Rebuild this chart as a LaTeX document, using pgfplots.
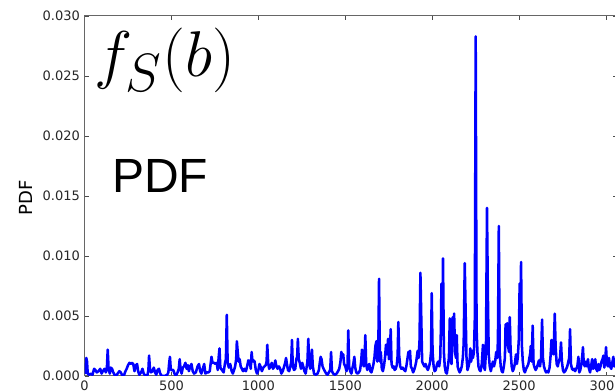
\documentclass[border=0pt]{standalone}
\usepackage{fontspec}
\setmainfont{DejaVu Sans}
\newfontfamily\arialf{Liberation Sans}
\usepackage{graphicx}
\usepackage{pgfplots}
\pgfplotsset{compat=1.18}
\begin{document}
\begin{tikzpicture}
\useasboundingbox (-63.45pt,-12pt) rectangle (397.8pt,282pt);
\clip (-63.45pt,-12pt) rectangle (397.8pt,282pt);
\begin{axis}[
  scale only axis, width=399.3pt, height=270pt,
  xmin=0, xmax=3063, ymin=0, ymax=0.030,
  xtick={0,500,1000,1500,2000,2500,3000},
  ytick={0,0.005,0.010,0.015,0.020,0.025,0.030},
  scaled y ticks=false,
  /pgf/number format/1000 sep={},
  y tick label style={/pgf/number format/fixed, /pgf/number format/fixed zerofill, /pgf/number format/precision=3},
  /pgf/number format/assume math mode=true,
  tick align=inside, major tick length=3pt,
  tick style={black!70, line width=0.5pt},
  axis line style={black!60, line width=0.75pt},
  ticklabel style={font=\fontsize{9.75}{11}\selectfont, text=black!85},
  ylabel={PDF},
  ylabel style={font=\fontsize{13.5}{15}\selectfont, at={(axis description cs:-0.110,0.494)}, anchor=center},
  clip mode=individual,
]
\addplot[color={rgb,255:red,0;green,0;blue,255}, line width=1.9pt, line join=round] coordinates {
(0,0.0002)(5,0.0003)(10,0.0015)(14,0.0012)(18,0.0002)(25,0.0001)(35,0.0002)(45,0.0001)(55,0.0006)(62,0.0005)
(70,0.0003)(80,0.0004)(90,0.0006)(98,0.0002)(105,0.0004)(115,0.0006)(122,0.0003)(128,0.0006)(133,0.0022)(138,0.0006)
(145,0.0002)(150,0.0007)(158,0.0006)(165,0.0003)(172,0.0001)(180,0.0)(190,0.0002)(200,0.0004)(208,0.0003)(215,0.0001)
(225,0.0)(235,0.0004)(242,0.0006)(250,0.0009)(258,0.0011)(265,0.0010)(272,0.0011)(280,0.0010)(287,0.0004)(295,0.0009)
(302,0.0010)(308,0.0004)(315,0.0001)(325,0.0003)(333,0.0006)(340,0.0002)(350,0.0)(362,0.0001)(367,0.0005)(371,0.0017)
(376,0.0006)(382,0.0003)(390,0.0004)(398,0.0007)(405,0.0003)(412,0.0001)(420,0.0005)(428,0.0006)(435,0.0002)(445,0.0)
(460,0.0)(475,0.0001)(482,0.0003)(486,0.0010)(491,0.0016)(496,0.0005)(503,0.0005)(510,0.0005)(517,0.0002)(525,0.0)
(535,0.0003)(542,0.0006)(547,0.0014)(552,0.0006)(558,0.0002)(565,0.0007)(572,0.0008)(580,0.0011)(587,0.0006)(594,0.0009)
(600,0.0004)(608,0.0008)(615,0.0010)(622,0.0004)(630,0.0002)(640,0.0003)(650,0.0008)(658,0.0010)(665,0.0004)(672,0.0002)
(680,0.0006)(688,0.0010)(695,0.0002)(705,0.0003)(712,0.0003)(720,0.0004)(725,0.0010)(730,0.0016)(736,0.0011)(745,0.0011)
(752,0.0010)(760,0.0011)(766,0.0005)(771,0.0015)(776,0.0023)(781,0.0007)(790,0.0005)(800,0.0003)(808,0.0011)(813,0.0014)
(818,0.0051)(823,0.0011)(830,0.0007)(838,0.0010)(846,0.0004)(853,0.0002)(860,0.0005)(866,0.0008)(872,0.0014)(876,0.0029)
(881,0.0020)(886,0.0012)(892,0.0014)(898,0.0008)(905,0.0006)(912,0.0004)(920,0.0006)(928,0.0004)(935,0.0008)(942,0.0013)
(950,0.0012)(956,0.0006)(961,0.0020)(966,0.0012)(972,0.0013)(978,0.0012)(985,0.0005)(992,0.0002)(1000,0.0005)(1006,0.0010)
(1012,0.0008)(1020,0.0004)(1028,0.0007)(1035,0.0008)(1042,0.0009)(1047,0.0012)(1051,0.0026)(1056,0.0011)(1062,0.0006)(1070,0.0008)
(1077,0.0011)(1084,0.0006)(1092,0.0008)(1097,0.0013)(1102,0.0009)(1110,0.0006)(1118,0.0008)(1125,0.0006)(1132,0.0002)(1140,0.0004)
(1148,0.0008)(1154,0.0011)(1159,0.0015)(1164,0.0010)(1170,0.0005)(1177,0.0004)(1184,0.0008)(1189,0.0012)(1193,0.0030)(1198,0.0008)
(1205,0.0005)(1212,0.0006)(1218,0.0014)(1223,0.0016)(1227,0.0031)(1232,0.0014)(1238,0.0011)(1245,0.0006)(1252,0.0011)(1258,0.0008)
(1265,0.0004)(1272,0.0002)(1278,0.0008)(1282,0.0012)(1287,0.0031)(1292,0.0011)(1298,0.0006)(1303,0.0010)(1308,0.0022)(1313,0.0008)
(1320,0.0002)(1330,0.0001)(1340,0.0002)(1348,0.0005)(1353,0.0011)(1358,0.0016)(1363,0.0014)(1369,0.0008)(1375,0.0006)(1382,0.0004)
(1390,0.0002)(1398,0.0001)(1405,0.0003)(1413,0.0005)(1418,0.0020)(1423,0.0004)(1430,0.0002)(1440,0.0001)(1450,0.0002)(1458,0.0004)
(1465,0.0006)(1472,0.0012)(1477,0.0020)(1482,0.0017)(1488,0.0018)(1493,0.0010)(1500,0.0008)(1507,0.0004)(1513,0.0010)(1517,0.0038)
(1522,0.0008)(1528,0.0004)(1535,0.0002)(1540,0.0006)(1546,0.0010)(1552,0.0016)(1557,0.0007)(1563,0.0003)(1570,0.0002)(1578,0.0003)
(1585,0.0005)(1591,0.0012)(1596,0.0022)(1601,0.0010)(1607,0.0008)(1611,0.0015)(1615,0.0034)(1620,0.0010)(1626,0.0005)(1632,0.0009)
(1638,0.0010)(1644,0.0004)(1650,0.0003)(1656,0.0006)(1662,0.0010)(1668,0.0016)(1673,0.0025)(1679,0.0029)(1684,0.0012)(1690,0.0025)
(1694,0.0081)(1699,0.0012)(1704,0.0020)(1710,0.0006)(1716,0.0004)(1722,0.0008)(1728,0.0015)(1734,0.0026)(1740,0.0018)(1746,0.0031)
(1751,0.0014)(1756,0.0016)(1761,0.0039)(1766,0.0010)(1772,0.0007)(1778,0.0008)(1784,0.0005)(1790,0.0006)(1796,0.0009)(1801,0.0017)
(1805,0.0045)(1810,0.0017)(1816,0.0008)(1822,0.0006)(1830,0.0007)(1838,0.0005)(1845,0.0004)(1851,0.0008)(1857,0.0014)(1863,0.0020)
(1868,0.0018)(1872,0.0021)(1877,0.0008)(1884,0.0006)(1890,0.0003)(1896,0.0005)(1902,0.0008)(1908,0.0012)(1916,0.0021)(1922,0.0015)
(1927,0.0030)(1932,0.0086)(1937,0.0048)(1942,0.0012)(1948,0.0010)(1955,0.0008)(1962,0.0010)(1968,0.0007)(1975,0.0005)(1982,0.0008)
(1988,0.0012)(1993,0.0020)(1997,0.0069)(2002,0.0020)(2008,0.0008)(2014,0.0004)(2020,0.0005)(2028,0.0010)(2034,0.0012)(2040,0.0008)
(2046,0.0015)(2050,0.0040)(2053,0.0077)(2058,0.0040)(2062,0.0098)(2067,0.0020)(2072,0.0008)(2078,0.0003)(2084,0.0002)(2090,0.0008)
(2096,0.0015)(2101,0.0048)(2106,0.0015)(2111,0.0010)(2118,0.0049)(2122,0.0030)(2126,0.0052)(2131,0.0020)(2137,0.0015)(2141,0.0034)
(2146,0.0008)(2152,0.0005)(2158,0.0003)(2164,0.0005)(2170,0.0008)(2176,0.0015)(2181,0.0027)(2187,0.0094)(2192,0.0055)(2197,0.0016)
(2203,0.0005)(2209,0.0008)(2215,0.0012)(2219,0.0023)(2224,0.0012)(2229,0.0021)(2234,0.0015)(2240,0.0020)(2245,0.0048)(2250,0.0283)
(2255,0.0040)(2260,0.0020)(2266,0.0008)(2272,0.0005)(2278,0.0004)(2285,0.0010)(2292,0.0026)(2297,0.0008)(2303,0.0005)(2309,0.0020)
(2315,0.0140)(2320,0.0070)(2325,0.0018)(2331,0.0008)(2337,0.0004)(2343,0.0008)(2349,0.0012)(2355,0.0008)(2362,0.0012)(2368,0.0020)
(2374,0.0015)(2378,0.0030)(2383,0.0125)(2388,0.0020)(2394,0.0008)(2400,0.0004)(2406,0.0003)(2412,0.0008)(2418,0.0015)(2422,0.0043)
(2427,0.0040)(2431,0.0044)(2436,0.0025)(2442,0.0020)(2446,0.0049)(2451,0.0021)(2457,0.0008)(2463,0.0004)(2469,0.0006)(2475,0.0010)
(2482,0.0018)(2487,0.0010)(2492,0.0015)(2498,0.0030)(2503,0.0077)(2507,0.0040)(2511,0.0095)(2516,0.0025)(2521,0.0012)(2527,0.0005)
(2533,0.0003)(2540,0.0006)(2547,0.0008)(2553,0.0010)(2559,0.0015)(2564,0.0019)(2567,0.0025)(2572,0.0012)(2578,0.0042)(2583,0.0010)
(2589,0.0007)(2595,0.0005)(2602,0.0007)(2608,0.0010)(2614,0.0013)(2620,0.0008)(2626,0.0015)(2632,0.0047)(2637,0.0015)(2643,0.0008)
(2649,0.0005)(2655,0.0003)(2662,0.0004)(2668,0.0003)(2675,0.0007)(2680,0.0015)(2686,0.0030)(2691,0.0020)(2698,0.0018)(2705,0.0052)
(2710,0.0024)(2716,0.0010)(2722,0.0008)(2728,0.0012)(2735,0.0015)(2741,0.0028)(2746,0.0012)(2752,0.0005)(2758,0.0003)(2765,0.0004)
(2771,0.0006)(2777,0.0008)(2783,0.0012)(2788,0.0015)(2793,0.0039)(2798,0.0010)(2804,0.0006)(2810,0.0005)(2816,0.0006)(2822,0.0004)
(2828,0.0006)(2835,0.0008)(2841,0.0016)(2846,0.0003)(2852,0.0005)(2858,0.0010)(2864,0.0018)(2867,0.0024)(2872,0.0010)(2878,0.0008)
(2884,0.0012)(2890,0.0008)(2896,0.0014)(2902,0.0006)(2908,0.0003)(2914,0.0008)(2920,0.0014)(2926,0.0006)(2932,0.0008)(2938,0.0014)
(2943,0.0006)(2950,0.0004)(2956,0.0010)(2962,0.0005)(2968,0.0008)(2974,0.0012)(2980,0.0014)(2985,0.0017)(2990,0.0007)(2995,0.0012)
(3000,0.0024)(3005,0.0010)(3011,0.0008)(3017,0.0015)(3023,0.0008)(3030,0.0006)(3036,0.0011)(3042,0.0016)(3047,0.0008)(3053,0.0012)
(3060,0.0006)
};
\node[anchor=center, inner sep=0pt] at (axis description cs:0.151,0.877) {\scalebox{1.95}{\Huge $f_S(b)$}};
\node[anchor=center, inner sep=0pt] at (axis description cs:0.142,0.556) {\arialf\fontsize{36}{40}\selectfont PDF};
\end{axis}
\end{tikzpicture}
\end{document}
